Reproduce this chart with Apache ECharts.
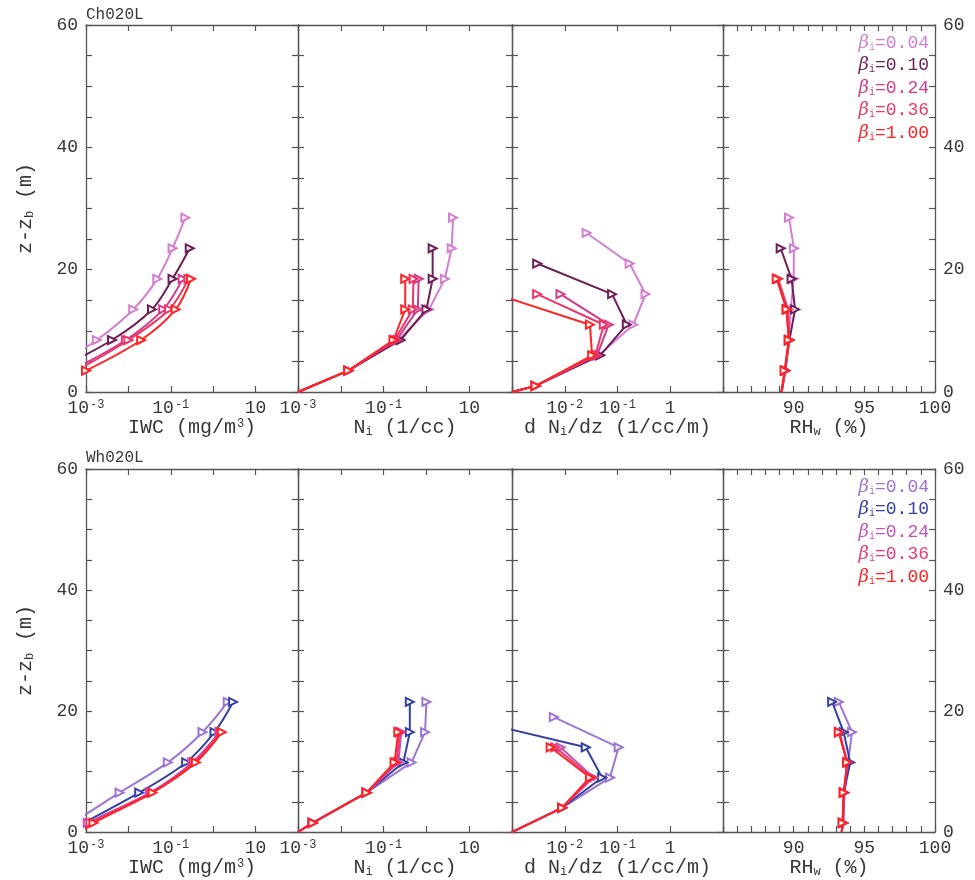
<!DOCTYPE html>
<html><head><meta charset="utf-8">
<script src="https://cdn.jsdelivr.net/npm/echarts@6/dist/echarts.min.js"></script>
<style>html,body{margin:0;padding:0;background:#fff}#c{width:975px;height:880px}</style>
</head><body><div id="c"></div>
<script>
// ---------- categories / labels ----------
const betaLabels = ['0.04', '0.10', '0.24', '0.36', '1.00'];
const caseTitles = ['Ch020L', 'Wh020L'];
const colorsCh = ['#d47ed2', '#6e1f55', '#d33a88', '#eb3768', '#ff2424'];
const colorsWh = ['#9b74d4', '#3541a2', '#c253ba', '#eb3872', '#ff2222'];

// ---------- Ch020L (top row) ----------
const chZ   = [3.5, 8.5, 13.5, 18.5, 23.5, 28.5];        // IWC levels (m)
const chZ0  = [0, 3.5, 8.5, 13.5, 18.5, 23.5, 28.5];     // Ni and RH levels (m)
const chZd  = [0, 1, 6, 11, 16, 21, 26];                 // dNi/dz levels (m)
const chIWC = [
  [1.3e-4, 1.8e-3, 1.3e-2, 4.8e-2, 0.11, 0.22],
  [1.7e-4, 4.1e-3, 3.6e-2, 0.11, 0.28],
  [4.4e-4, 8.7e-3, 6.6e-2, 0.19],
  [6.0e-4, 1.0e-2, 9.1e-2, 0.26],
  [1.0e-3, 2.0e-2, 0.13, 0.30]
];
const chNi = [
  [1e-3, 1.5e-2, 0.22, 1.15, 2.7, 3.9, 4.2],
  [1e-3, 1.5e-2, 0.25, 1.0, 1.4, 1.4],
  [1e-3, 1.5e-2, 0.20, 0.63, 0.66],
  [1e-3, 1.5e-2, 0.18, 0.48, 0.50],
  [1e-3, 1.5e-2, 0.17, 0.32, 0.32]
];
const chDNdz = [
  [1e-3, 2.8e-3, 4.4e-2, 0.20, 0.34, 0.17, 2.6e-2],
  [1e-3, 2.8e-3, 4.7e-2, 0.15, 7.9e-2, 3.0e-3],
  [1e-3, 2.8e-3, 4.1e-2, 6.8e-2, 8.3e-3],
  [1e-3, 2.8e-3, 3.8e-2, 5.5e-2, 3.0e-3],
  [1e-3, 2.8e-3, 3.3e-2, 3.0e-2, 5.0e-4]
];
const chRH = [
  [89.15, 89.4, 89.65, 89.8, 90.0, 90.02, 89.67],
  [89.15, 89.4, 89.7, 90.1, 89.85, 89.08],
  [89.15, 89.4, 89.68, 89.6, 88.9],
  [89.15, 89.4, 89.66, 89.5, 88.85],
  [89.13, 89.35, 89.65, 89.5, 88.8]
];

// ---------- Wh020L (bottom row) ----------
const whZ  = [0, 1.5, 6.5, 11.5, 16.5, 21.5];
const whZd = [-1, 4, 9, 14, 19];
const whIWC = [
  [2.0e-4, 4.7e-4, 6.2e-3, 8.5e-2, 0.56, 2.2],
  [4.0e-4, 8.9e-4, 1.8e-2, 0.23, 1.07, 2.95],
  [6.3e-4, 1.1e-3, 3.2e-2, 0.32, 1.4],
  [7.1e-4, 1.26e-3, 3.5e-2, 0.35, 1.5],
  [7.9e-4, 1.5e-3, 3.7e-2, 0.39, 1.6]
];
const whNi = [
  [1e-3, 2.2e-3, 4.0e-2, 0.45, 0.93, 1.0],
  [1e-3, 2.2e-3, 4.0e-2, 0.29, 0.41, 0.41],
  [1e-3, 2.2e-3, 4.0e-2, 0.22, 0.26],
  [1e-3, 2.2e-3, 4.0e-2, 0.20, 0.24],
  [1e-3, 2.2e-3, 4.0e-2, 0.18, 0.22]
];
const whDNdz = [
  [5.8e-4, 8.9e-3, 7.2e-2, 0.105, 6.2e-3],
  [5.8e-4, 8.9e-3, 5.1e-2, 2.5e-2, 1.0e-4],
  [5.8e-4, 8.9e-3, 3.5e-2, 8.3e-3],
  [5.8e-4, 8.9e-3, 3.3e-2, 6.6e-3],
  [5.8e-4, 8.9e-3, 3.0e-2, 5.4e-3]
];
const whRH = [
  [93.4, 93.5, 93.6, 93.85, 94.13, 93.19],
  [93.4, 93.5, 93.55, 94.0, 93.54, 92.72],
  [93.4, 93.5, 93.55, 93.8, 93.25],
  [93.4, 93.5, 93.55, 93.8, 93.2],
  [93.4, 93.45, 93.54, 93.78, 93.19]
];

// ---------- tick label lists ----------
const iwcTickExp = [-3, -1, 1];      // labels 10^-3, 10^-1, 10
const dndzTickExp = [-2, -1, 0];     // labels 10^-2, 10^-1, 1
const rhTicks = [90, 95, 100];
const zTicks = [0, 20, 40, 60];

// ---------- layout ----------
const FONT = 'Liberation Mono';
const TXT = '#383838';
const AX = '#555';
const colsX = [{l: 86, w: 212}, {l: 298, w: 214}, {l: 512, w: 211}, {l: 723, w: 212}];
const rowsY = [{t: 25, h: 367}, {t: 469, h: 363}];

const richSup = {
  s: {fontSize: 12, fontFamily: FONT, color: TXT, verticalAlign: 'top', lineHeight: 12, padding: [0, 0, 0, 1]},
  u: {fontSize: 12, fontFamily: FONT, color: TXT, verticalAlign: 'bottom', lineHeight: 12, padding: [7, 0, 0, 0]}
};

function expLabel(e) {
  if (e === 0) return '1';
  if (e === 1) return '10';
  return '10{s|' + e + '}';
}

const grids = [], xAxes = [], yAxes = [], series = [], graphics = [];
const xNames = ['IWC (mg/m{s|3})', 'N{u|i} (1/cc)', 'd N{u|i}/dz (1/cc/m)', 'RH{u|w} (%)'];

rowsY.forEach((row, r) => {
  colsX.forEach((col, p) => {
    const g = r * 4 + p;
    grids.push({left: col.l, top: row.t, width: col.w, height: row.h, containLabel: false});
    const baseLine = {show: true, onZero: false, lineStyle: {color: AX, width: 1.3}};
    const tick = {show: true, inside: true, length: 6, lineStyle: {color: AX, width: 1.2}};
    let xa;
    if (p === 3) {
      xa = {type: 'value', min: 85, max: 100, interval: 1,
        axisLabel: {fontFamily: FONT, fontSize: 18, color: TXT, margin: 7,
          formatter: v => rhTicks.includes(v) ? String(v) : ''}};
    } else {
      const allowed = p === 2 ? dndzTickExp : iwcTickExp;
      xa = {type: 'log', logBase: 10, min: 1e-3, max: p === 2 ? 10 : 100,
        axisLabel: {fontFamily: FONT, fontSize: 18, color: TXT, margin: 7, rich: richSup,
          formatter: v => { const e = Math.round(Math.log10(v)); return allowed.includes(e) ? expLabel(e) : ''; }}};
    }
    xAxes.push(Object.assign({}, xa, {gridIndex: g, position: 'bottom', axisLine: baseLine, axisTick: tick,
      splitLine: {show: false}, minorTick: {show: false},
      name: xNames[p], nameLocation: 'middle', nameGap: 24,
      nameTextStyle: {fontFamily: FONT, fontSize: 20, color: TXT, rich: richSup}}));
    xAxes.push(Object.assign({}, xa, {gridIndex: g, position: 'top', axisLine: baseLine, axisTick: tick,
      axisLabel: {show: false}, splitLine: {show: false}}));
    const yBase = {type: 'value', min: 0, max: 60, interval: 5, gridIndex: g, axisLine: baseLine, axisTick: tick,
      splitLine: {show: false}};
    yAxes.push(Object.assign({}, yBase, {position: 'left',
      axisLabel: {show: p === 0, fontFamily: FONT, fontSize: 18, color: TXT, margin: 8,
        formatter: v => zTicks.includes(v) ? String(v) : ''}},
      p === 0 ? {name: 'z-z{u|b} (m)', nameLocation: 'middle', nameRotate: 90, nameGap: 50,
        nameTextStyle: {fontFamily: FONT, fontSize: 20, color: TXT, rich: richSup}} : {}));
    yAxes.push(Object.assign({}, yBase, {position: 'right',
      axisLabel: {show: p === 3, fontFamily: FONT, fontSize: 18, color: TXT, margin: 8,
        formatter: v => zTicks.includes(v) ? String(v) : ''}}));
  });
});

function addSeries(r, p, zArr, vals, colors, smooth) {
  const g = r * 4 + p;
  vals.forEach((arr, i) => {
    const data = arr.map((v, k) => {
      const z = zArr[k];
      return z <= 0 ? {value: [v, z], symbol: 'none'} : [v, z];
    });
    series.push({
      type: 'line', xAxisIndex: g * 2, yAxisIndex: g * 2, data: data,
      name: caseTitles[r] + ' ' + betaLabels[i],
      symbol: 'emptyTriangle', symbolSize: 8, symbolRotate: -90,
      smooth: smooth, clip: true, z: 2 + i, animation: false,
      lineStyle: {color: colors[i], width: 2},
      itemStyle: {color: colors[i], borderWidth: 1}
    });
  });
}
addSeries(0, 0, chZ, chIWC, colorsCh, 0.35);
addSeries(0, 1, chZ0, chNi, colorsCh, false);
addSeries(0, 2, chZd, chDNdz, colorsCh, false);
addSeries(0, 3, chZ0, chRH, colorsCh, false);
addSeries(1, 0, whZ, whIWC, colorsWh, 0.35);
addSeries(1, 1, whZ, whNi, colorsWh, false);
addSeries(1, 2, whZd, whDNdz, colorsWh, false);
addSeries(1, 3, whZ, whRH, colorsWh, false);

// titles and in-panel legends
const titleY = [16, 459];
const legendY0 = [43, 487];
rowsY.forEach((row, r) => {
  graphics.push({type: 'text', left: 86, top: titleY[r] - 9,
    style: {text: caseTitles[r], fontFamily: FONT, fontSize: 16, fill: TXT}});
  const cols = r === 0 ? colorsCh : colorsWh;
  betaLabels.forEach((b, i) => {
    graphics.push({type: 'text', x: 929, y: legendY0[r] + i * 22.5,
      style: {text: '{g|\u03b2}{i|i}{t|=' + b + '}', align: 'right', verticalAlign: 'middle', fill: cols[i],
        rich: {
          g: {fontFamily: 'DejaVu Serif', fontStyle: 'italic', fontSize: 18, fill: cols[i], color: cols[i]},
          i: {fontFamily: FONT, fontSize: 10, fill: cols[i], color: cols[i], verticalAlign: 'bottom', padding: [8, 0, 0, 0]},
          t: {fontFamily: FONT, fontSize: 18, fill: cols[i], color: cols[i]}
        }}});
  });
});

const chart = echarts.init(document.getElementById('c'), null, {renderer: 'canvas'});
chart.setOption({
  backgroundColor: '#ffffff',
  animation: false,
  grid: grids, xAxis: xAxes, yAxis: yAxes, series: series, graphic: graphics
});
</script></body></html>
